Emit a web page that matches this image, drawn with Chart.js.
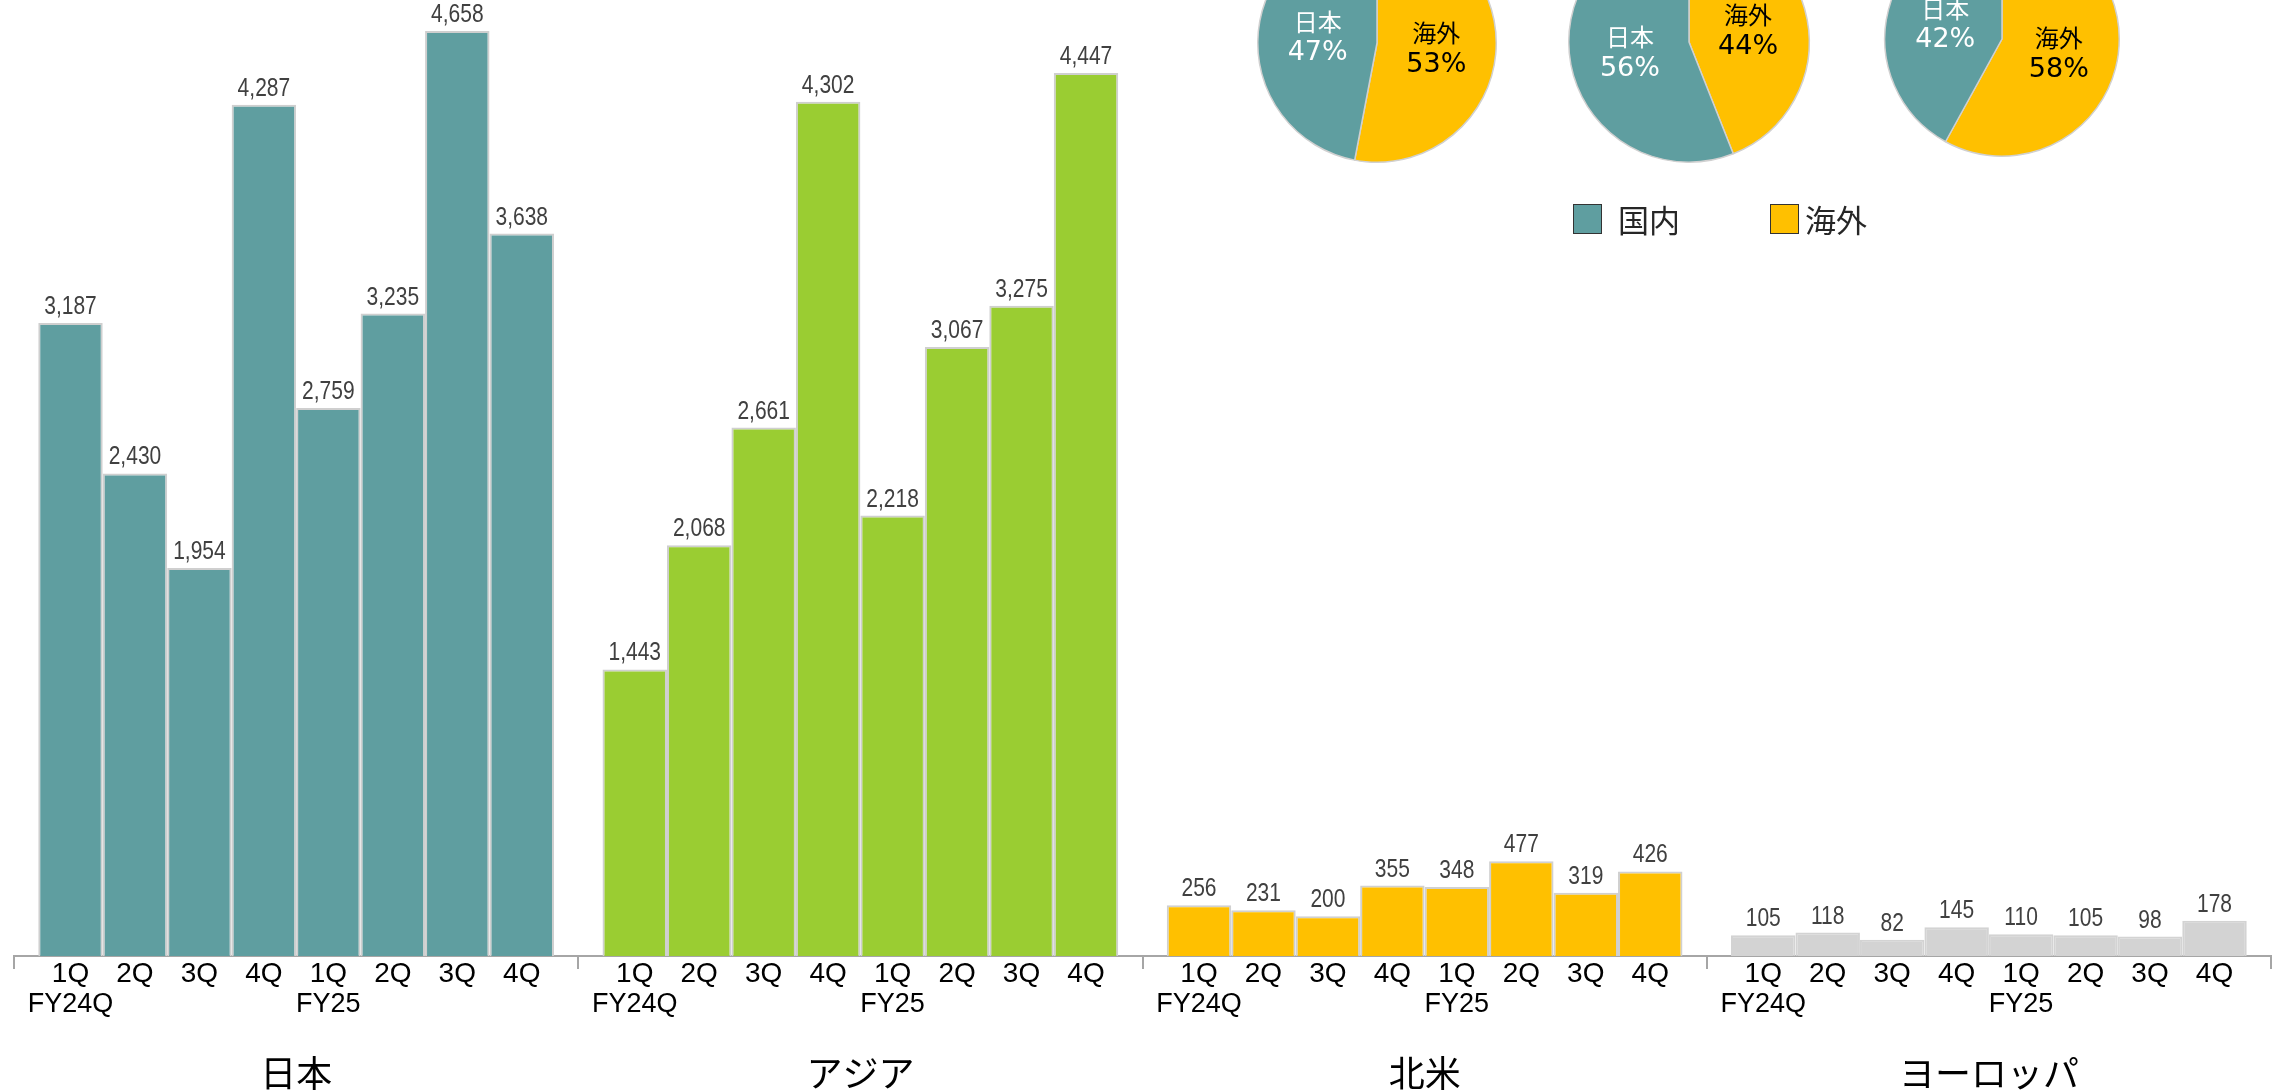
<!DOCTYPE html>
<html lang="ja">
<head>
<meta charset="utf-8">
<title>地域別売上</title>
<script src="https://cdn.jsdelivr.net/npm/chart.js@4.4.1/dist/chart.umd.min.js"></script>
<style>
  html, body { margin: 0; padding: 0; background: #fff; }
  #stage { position: relative; width: 2281px; height: 1091px; overflow: hidden; }
  #bars { position: absolute; left: 0; top: 0; }
  .pie { position: absolute; }
  .legend-item { position: absolute; top: 203px; display: flex; align-items: center;
    font: 31px 'Noto Sans CJK JP', sans-serif; color: #262626; line-height: 32px; }
  .legend-item .box { width: 27px; height: 28px; border: 1.5px solid #333; margin-right: 16px; }
</style>
</head>
<body>
<div id="stage">
  <canvas id="bars" width="2281" height="1091"></canvas>
</div>
<script>
// -----------------------------
// Daten
// -----------------------------
const regions = ["日本", "アジア", "北米", "ヨーロッパ"]
const quarters = ["1Q", "2Q", "3Q", "4Q", "1Q", "2Q", "3Q", "4Q"]
const fiscalYears = ["FY24Q", "", "", "", "FY25", "", "", ""]

const japan = [3187, 2430, 1954, 4287, 2759, 3235, 4658, 3638]
const asia = [1443, 2068, 2661, 4302, 2218, 3067, 3275, 4447]
const northAmerica = [256, 231, 200, 355, 348, 477, 319, 426]
const europe = [105, 118, 82, 145, 110, 105, 98, 178]

const pieLabels = ["海外", "日本"]
const pieShares = [
  [53, 47],
  [44, 56],
  [58, 42]
]
const legendLabels = ["国内", "海外"]

// -----------------------------
// Stil
// -----------------------------
const regionColors = ["#5F9EA0", "#9ACD32", "#FFC000", "#D3D3D3"]
const regionBorders = ["#CFCFCF", "#CFCFCF", "#D0D0D0", "#D3D3D3"]
const pieColors = ["#FFC000", "#5F9EA0"]
const pieTextColors = ["#000000", "#FFFFFF"]
const legendColors = ["#5F9EA0", "#FFC000"]

const fontNum = "'Liberation Sans', sans-serif"
const fontJa = "'Noto Sans CJK JP', sans-serif"

// Pie placement (center x, center y, radius) in page pixels
const pieLayout = [
  { cx: 1377, cy: 43, r: 120 },
  { cx: 1689, cy: 42, r: 121 },
  { cx: 2002, cy: 39, r: 118 }
]
const legendLeft = [1573, 1770]

// -----------------------------
// Balken
// -----------------------------
const regionSeries = [japan, asia, northAmerica, europe]

const barText = {
  id: "barText",
  afterDatasetsDraw(chart) {
    const ctx = chart.ctx
    const base = chart.scales.y.getPixelForValue(0)
    ctx.save()
    ctx.textAlign = "center"
    chart.data.datasets.forEach((ds, i) => {
      const meta = chart.getDatasetMeta(i)
      meta.data.forEach((bar, j) => {
        // Wert über dem Balken (schmal gestaucht)
        ctx.save()
        ctx.fillStyle = "#404040"
        ctx.font = `25px ${fontNum}`
        ctx.textBaseline = "alphabetic"
        ctx.translate(bar.x, bar.y - 9)
        ctx.scale(0.84, 1)
        ctx.fillText(ds.data[j].toLocaleString("en-US"), 0, 0)
        ctx.restore()

        // Quartal / Geschäftsjahr unter der Achse
        ctx.fillStyle = "#000000"
        ctx.textBaseline = "middle"
        ctx.font = `28px ${fontNum}`
        ctx.fillText(quarters[i], bar.x, base + 18)
        if (fiscalYears[i]) {
          ctx.font = `27px ${fontNum}`
          ctx.fillText(fiscalYears[i], bar.x, base + 49)
        }
      })
    })
    ctx.restore()
  }
}

new Chart(document.getElementById("bars"), {
  type: "bar",
  data: {
    labels: regions,
    datasets: quarters.map((q, i) => ({
      label: q,
      data: regionSeries.map(s => s[i]),
      backgroundColor: regionColors,
      borderColor: regionBorders,
      borderWidth: 2,
      categoryPercentage: 0.914,
      barPercentage: 1.0
    }))
  },
  options: {
    responsive: false,
    animation: false,
    layout: { padding: { left: 14, right: 10, top: 0, bottom: 0 } },
    plugins: { legend: { display: false }, tooltip: { enabled: false } },
    scales: {
      x: {
        afterFit(scale) { scale.height = 135 },
        grid: {
          offset: true,
          drawOnChartArea: false,
          drawTicks: true,
          tickLength: 13,
          color: "#A6A6A6",
          lineWidth: 2
        },
        border: { display: true, color: "#A6A6A6", width: 2 },
        ticks: {
          padding: 86,
          color: "#000000",
          font: { family: fontJa, size: 36, lineHeight: 1.0 }
        }
      },
      y: { display: false, min: 0, max: 4814 }
    }
  },
  plugins: [barText]
})

// -----------------------------
// Kreisdiagramme
// -----------------------------
const stage = document.getElementById("stage")

const pieText = {
  id: "pieText",
  afterDatasetsDraw(chart) {
    const ctx = chart.ctx
    const meta = chart.getDatasetMeta(0)
    ctx.save()
    ctx.textAlign = "center"
    ctx.textBaseline = "middle"
    meta.data.forEach((arc, j) => {
      const p = arc.tooltipPosition()
      ctx.fillStyle = pieTextColors[j]
      ctx.font = `24px ${fontJa}`
      ctx.fillText(chart.data.labels[j], p.x, p.y - 16)
      ctx.font = `27px 'DejaVu Sans', sans-serif`
      ctx.fillText(chart.data.datasets[0].data[j] + "%", p.x, p.y + 16)
    })
    ctx.restore()
  }
}

pieShares.forEach((shares, k) => {
  const L = pieLayout[k]
  const size = 280
  const c = document.createElement("canvas")
  c.className = "pie"
  c.width = size
  c.height = size
  c.style.left = (L.cx - size / 2) + "px"
  c.style.top = (L.cy - size / 2) + "px"
  stage.appendChild(c)

  new Chart(c, {
    type: "pie",
    data: {
      labels: pieLabels,
      datasets: [{
        data: shares,
        backgroundColor: pieColors,
        borderColor: "#D0D0D0",
        borderWidth: 1.5
      }]
    },
    options: {
      responsive: false,
      animation: false,
      layout: { padding: size / 2 - L.r },
      plugins: { legend: { display: false }, tooltip: { enabled: false } }
    },
    plugins: [pieText]
  })
})

// -----------------------------
// Legende
// -----------------------------
legendLabels.forEach((label, i) => {
  const item = document.createElement("div")
  item.className = "legend-item"
  item.style.left = legendLeft[i] + "px"
  const box = document.createElement("span")
  box.className = "box"
  box.style.background = legendColors[i]
  if (i === 1) box.style.marginRight = "6px"
  const txt = document.createElement("span")
  txt.textContent = label
  item.appendChild(box)
  item.appendChild(txt)
  stage.appendChild(item)
})
</script>
</body>
</html>
